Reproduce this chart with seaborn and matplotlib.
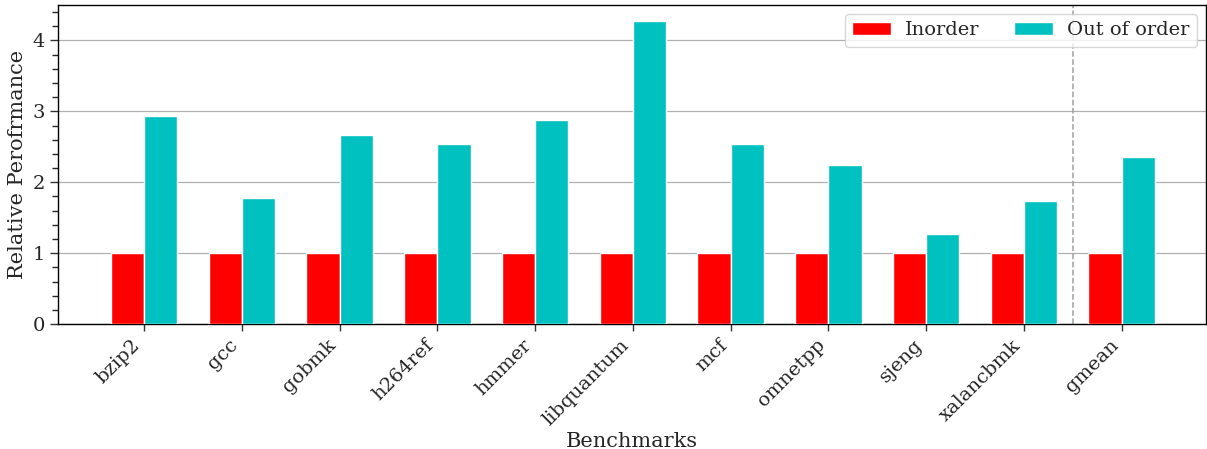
import matplotlib
matplotlib.use("Agg")
import matplotlib.pyplot as plt
from matplotlib.ticker import MultipleLocator
import pandas as pd
import seaborn as sns

benchmarks = ["bzip2", "gcc", "gobmk", "h264ref", "hmmer", "libquantum",
              "mcf", "omnetpp", "sjeng", "xalancbmk", "gmean"]
inorder = [1, 1, 1, 1, 1, 1, 1, 1, 1, 1, 1]
out_of_order = [2.93, 1.78, 2.67, 2.54, 2.88, 4.27, 2.54, 2.25, 1.27, 1.73, 2.36]
series_names = ["Inorder", "Out of order"]
colors = ["#ff0000", "#00c0c0"]

df = pd.DataFrame({
    "Benchmarks": benchmarks * 2,
    "value": inorder + out_of_order,
    "config": [series_names[0]] * len(benchmarks) + [series_names[1]] * len(benchmarks),
})

sns.set_theme(style="ticks")
plt.rcParams["font.family"] = ["DejaVu Serif"]

fig = plt.figure(figsize=(12.07, 4.49), dpi=100)
ax = fig.add_axes([0.048, 0.278, 0.951, 0.711])

sns.barplot(data=df, x="Benchmarks", y="value", hue="config",
            palette=colors, width=0.68, edgecolor="white", linewidth=1,
            saturation=1, ax=ax, zorder=3)

ax.set_ylim(0, 4.5)
ax.set_xlim(-0.88, 10.86)
ax.yaxis.set_major_locator(MultipleLocator(1))
ax.yaxis.set_minor_locator(MultipleLocator(0.2))
ax.yaxis.grid(True, color="#b0b0b0", linewidth=0.9, zorder=0)
ax.set_axisbelow(True)
ax.axvline(9.5, color="#a0a0a0", linestyle="--", linewidth=1.1, zorder=1)

ax.set_xlabel("Benchmarks", fontsize=15, labelpad=2)
ax.set_ylabel("Relative Perofrmance", fontsize=15)
ax.tick_params(axis="both", labelsize=14, color="#333333", width=1)
ax.tick_params(axis="x", length=5)
ax.set_xticks(range(len(benchmarks)))
ax.set_xticklabels(benchmarks, rotation=45, ha="right")

for s in ax.spines.values():
    s.set_color("black")
    s.set_linewidth(1)

ax.legend(title=None, loc="upper right", ncol=2, fontsize=14,
          frameon=True, handlelength=2.0, columnspacing=1.8,
          handletextpad=0.7, borderaxespad=0.45)

fig.savefig("out.png", dpi=100)
